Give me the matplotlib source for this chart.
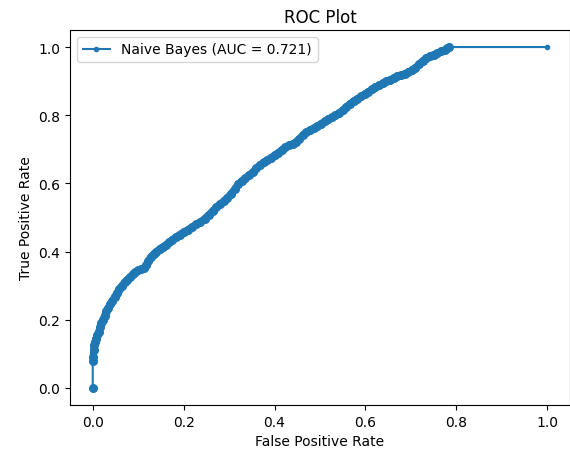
import matplotlib
matplotlib.use("Agg")
import matplotlib.pyplot as plt

# ROC curve points
fpr = [0.0, 0.0, 0.001, 0.002, 0.003, 0.005, 0.007, 0.010, 0.013, 0.016,
       0.019, 0.022, 0.026, 0.030, 0.034, 0.038, 0.043, 0.048, 0.053, 0.058,
       0.064, 0.070, 0.076, 0.082, 0.088, 0.094, 0.100, 0.106, 0.112, 0.117,
       0.122, 0.128, 0.134, 0.140, 0.147, 0.154, 0.161, 0.168, 0.175, 0.183,
       0.191, 0.200, 0.209, 0.218, 0.228, 0.237, 0.246, 0.255, 0.264, 0.272,
       0.280, 0.288, 0.296, 0.304, 0.312, 0.320, 0.328, 0.336, 0.344, 0.352,
       0.360, 0.368, 0.376, 0.384, 0.392, 0.400, 0.408, 0.416, 0.424, 0.432,
       0.440, 0.447, 0.454, 0.462, 0.470, 0.478, 0.486, 0.494, 0.502, 0.510,
       0.518, 0.526, 0.534, 0.542, 0.550, 0.558, 0.566, 0.574, 0.582, 0.590,
       0.598, 0.606, 0.614, 0.622, 0.630, 0.638, 0.646, 0.654, 0.662, 0.670,
       0.678, 0.686, 0.694, 0.702, 0.710, 0.718, 0.726, 0.734, 0.742, 0.750,
       0.758, 0.766, 0.774, 0.780, 0.784, 1.0]
tpr = [0.0, 0.080, 0.090, 0.110, 0.125, 0.135, 0.145, 0.155, 0.165, 0.178,
       0.190, 0.200, 0.212, 0.225, 0.235, 0.245, 0.255, 0.268, 0.278, 0.290,
       0.300, 0.310, 0.318, 0.326, 0.333, 0.340, 0.346, 0.349, 0.352, 0.360,
       0.372, 0.385, 0.393, 0.400, 0.408, 0.414, 0.420, 0.427, 0.435, 0.443,
       0.450, 0.458, 0.464, 0.472, 0.480, 0.487, 0.497, 0.508, 0.520, 0.530,
       0.540, 0.548, 0.558, 0.570, 0.583, 0.598, 0.608, 0.616, 0.625, 0.633,
       0.645, 0.655, 0.662, 0.668, 0.676, 0.683, 0.690, 0.699, 0.706, 0.712,
       0.716, 0.722, 0.730, 0.742, 0.750, 0.757, 0.762, 0.768, 0.775, 0.782,
       0.788, 0.794, 0.800, 0.807, 0.815, 0.825, 0.834, 0.842, 0.848, 0.855,
       0.862, 0.869, 0.876, 0.882, 0.888, 0.894, 0.899, 0.904, 0.910, 0.915,
       0.918, 0.922, 0.926, 0.932, 0.940, 0.950, 0.960, 0.968, 0.974, 0.978,
       0.982, 0.987, 0.991, 0.996, 1.0, 1.0]
auc_label = "Naive Bayes (AUC = 0.721)"

fig = plt.figure(figsize=(5.7, 4.52), dpi=100)
ax = fig.add_axes([70 / 570, 46 / 452, 500 / 570, 375 / 452])

line, = ax.plot(fpr, tpr, marker='.', label=auc_label)
c = line.get_color()
# the real curve has thousands of thresholds, so its band looks thicker
ax.plot(fpr[2:-1], tpr[2:-1], marker='o', ms=5.5, lw=5,
        color=c, solid_capstyle='round')
ax.plot(fpr[:2], tpr[:2], 'o', ms=5.5, color=c)
ax.set_title("ROC Plot")
ax.set_xlabel("False Positive Rate")
ax.set_ylabel("True Positive Rate")
ax.legend(loc='upper left')

fig.savefig("out.png", dpi=100)
